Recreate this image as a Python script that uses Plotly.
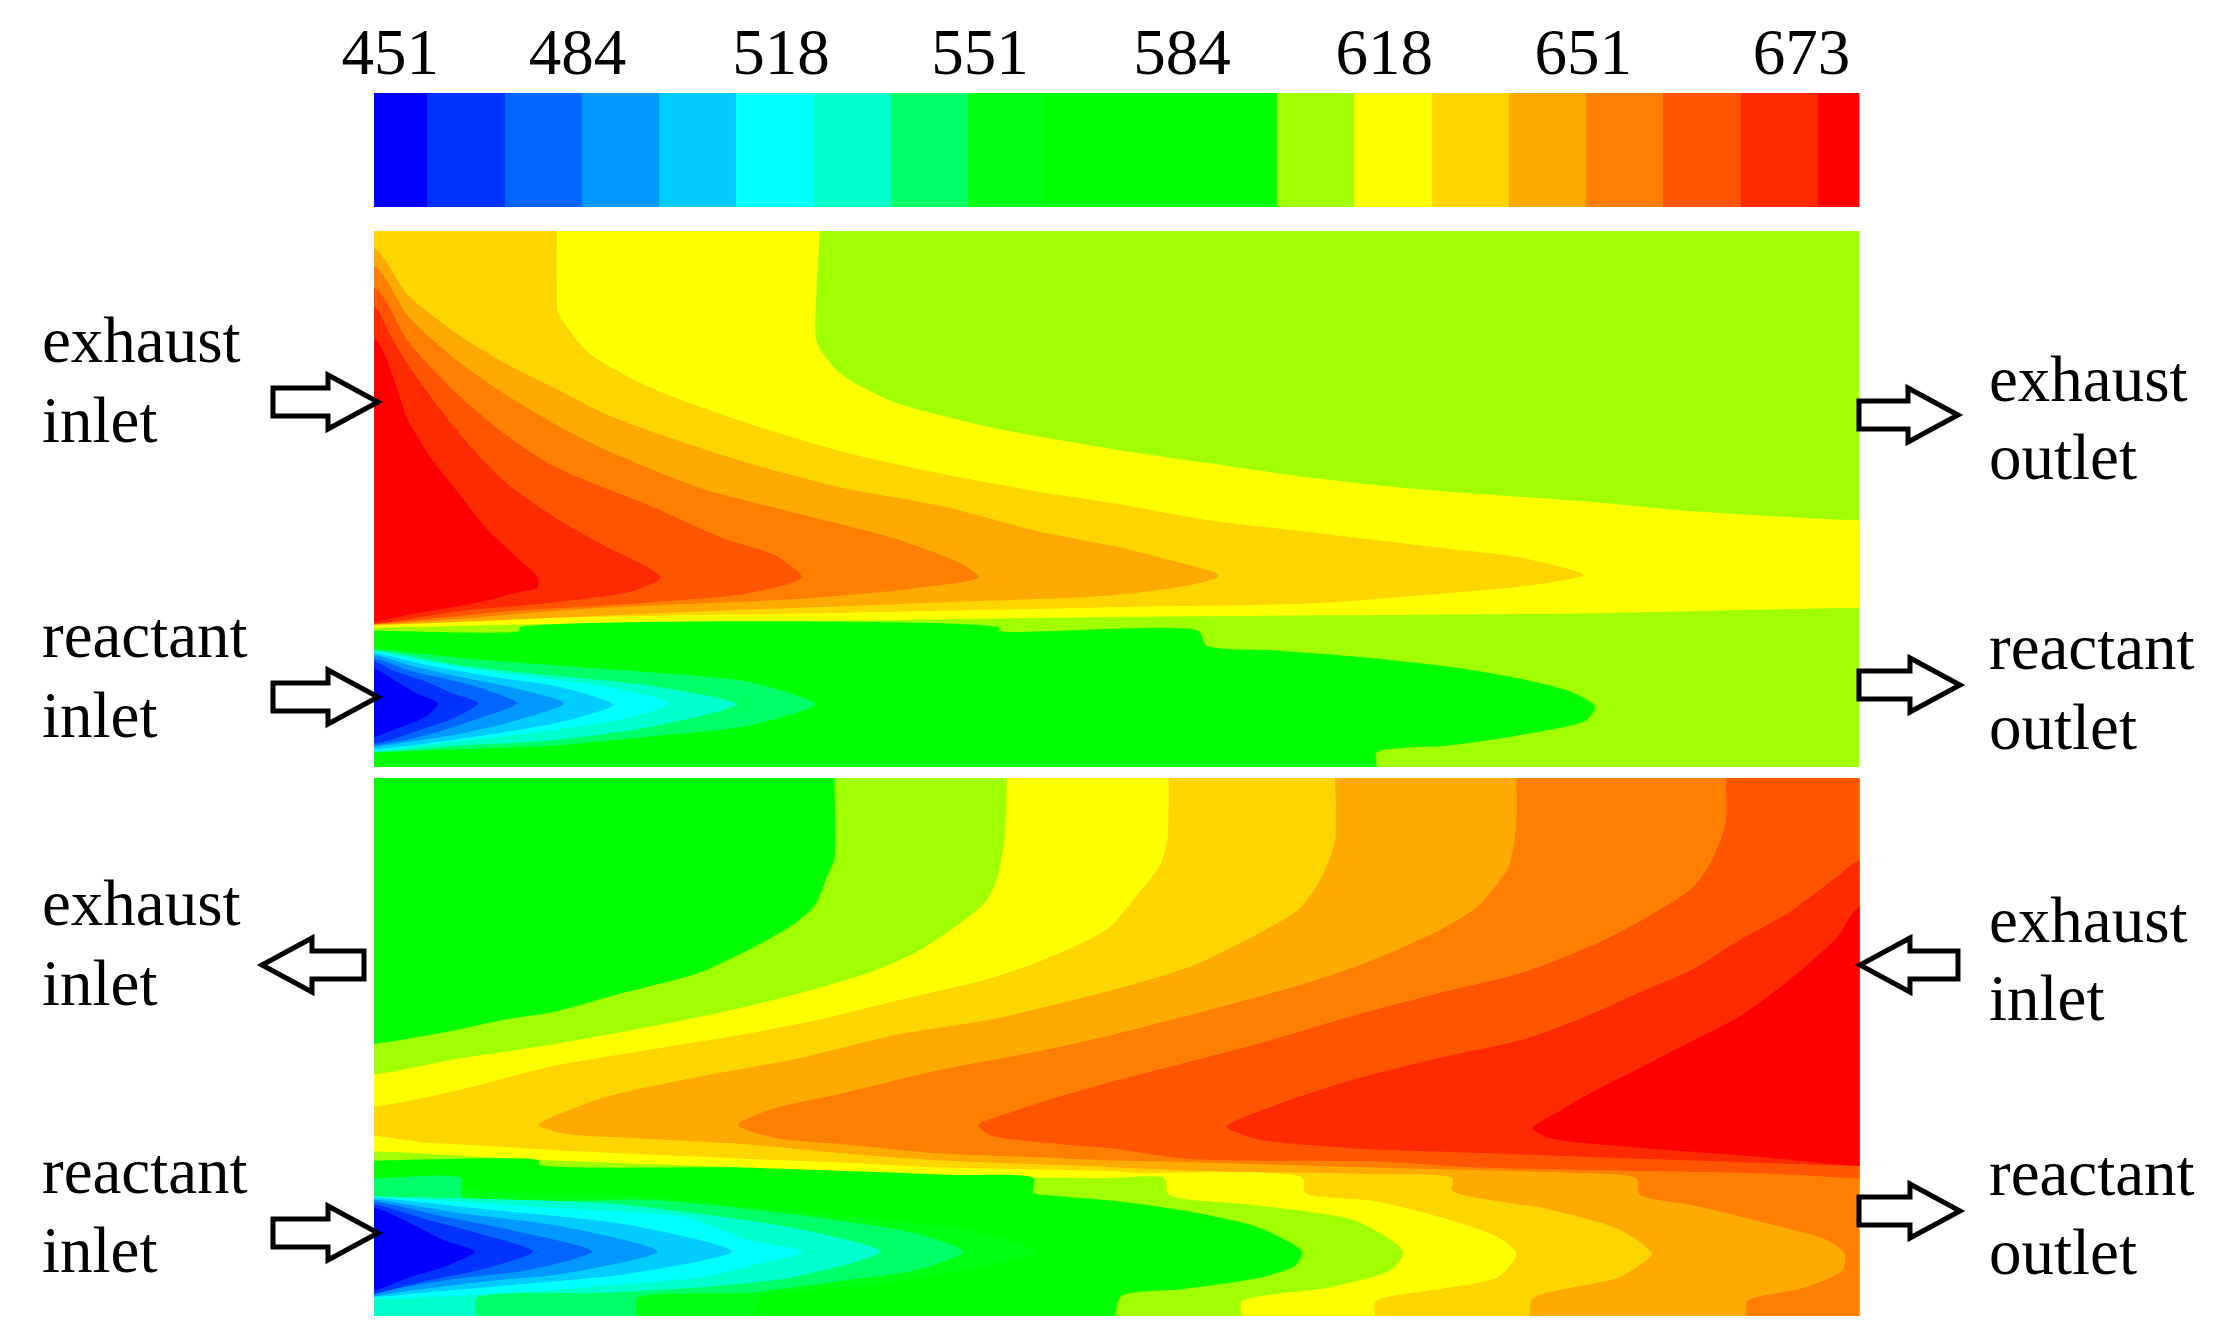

import plotly.graph_objects as go

PAGE_W, PAGE_H = 2235, 1344
PAGE_PAD = 8  # browser body margin round the plot div
FIG_W, FIG_H = PAGE_W - 2 * PAGE_PAD, PAGE_H - 2 * PAGE_PAD - 8
FONT = "Liberation Serif"

# legend bands
band_colors = [
    "#0000ff", "#0033ff", "#0066ff", "#0099ff", "#00ccff", "#00ffff", "#00ffcc",
    "#00ff66", "#00ff11", "#00ff00", "#00ff00", "#00ff00", "#a0ff00", "#ffff00",
    "#ffd500", "#ffaa00", "#ff8000", "#ff5500", "#ff2b00", "#ff0000",
]
legend_temps = [451, 463, 474, 486, 498, 509, 521, 533, 544, 556,
                568, 579, 591, 603, 614, 626, 638, 650, 661, 673]
legend_edges = [0, 3.6, 8.8, 14.0, 19.2, 24.4, 29.6, 34.8, 40.0, 45.2, 50.4,
                55.6, 60.8, 66.0, 71.2, 76.4, 81.6, 86.8, 92.0, 97.2, 100]
legend_tick_pos = [1.1, 13.7, 27.4, 40.8, 54.4, 68.0, 81.4, 96.1]
legend_tick_text = ["451", "484", "518", "551", "584", "618", "651", "673"]

# isotherms as (position along channel %, position across panel % from top)
# points outside 0-100 only close the region beyond the frame
# top panel, hot side: region at or above the band
top_13 = [(-5, -5), (30, -5), (30, 0), (29.8, 11), (29.8, 20.6), (31.4, 26.6), (35, 31.9), (41.5, 36.6), (50.2, 40.9),
          (56.1, 43.3), (62.7, 45.9), (69.2, 47.9), (75.7, 49.3), (82.2, 50.6), (88.8, 52.3), (100, 54), (105, 54),
          (105, 70.3), (100, 70.3), (82.2, 71.3), (64.3, 71.7), (50, 72), (25, 73), (10, 73.4), (0, 74), (-5, 74)]
top_14 = [(-5, -5), (12.3, -5), (12.3, 0), (12.3, 11.2), (12.4, 15.2), (14.4, 22.6), (18.6, 29.2), (25.2, 35.9),
          (31.7, 41.3), (38.2, 45.3), (44.7, 48.6), (50.2, 51), (56.1, 53.9), (64.3, 56.6), (72.4, 59.3), (77.3, 61),
          (81.4, 64), (81.4, 64.3), (77.3, 66.3), (71.8, 67.7), (64.3, 69.3), (58.7, 69.8), (52.9, 70),
          (44.7, 70.5), (32, 71.2), (15.4, 72), (5.6, 72.6), (0, 73.6), (-5, 73.6)]
top_15 = [(-5, 3.2), (0, 3.2), (2.3, 12), (5.6, 19.2), (8.8, 24.6), (12.1, 29.2), (15.4, 33.9), (18.6, 37.3),
          (25.2, 43.3), (31.7, 48), (38.2, 51.3), (44.7, 56), (50.2, 59), (52.9, 60.9), (56.8, 64), (56.8, 64.6),
          (54.5, 66.3), (49.6, 68), (38.2, 69.3), (21.9, 71), (0, 73.5), (-5, 73.5)]
top_16 = [(-5, 6.5), (0, 6.5), (2.3, 15.9), (5.6, 24.2), (8.8, 30.4), (12.1, 35.9), (15.4, 40.6), (21.9, 47.9),
          (28.4, 52.6), (35, 57.3), (39.5, 62), (40.7, 64.6), (36.6, 66.6), (28.8, 68.6), (15.4, 70.3), (0, 73.4),
          (-5, 73.4)]
top_17 = [(-5, 10.5), (0, 10.5), (2.3, 20.6), (5.6, 30.4), (8.8, 37.9), (12.1, 43.9), (18.6, 51.3), (23.5, 57.3),
          (27, 60.5), (28.8, 64.6), (25.2, 67.6), (18.6, 69.3), (8.8, 71), (0, 73.3), (-5, 73.3)]
top_18 = [(-5, 14), (0, 14), (1, 19), (2.3, 25), (5.6, 37.3), (8.8, 46.8), (12.1, 53.3), (15.4, 58.6), (19.3, 64.6),
          (17.4, 67.2), (12.1, 69.3), (5.6, 71), (0, 73.3), (-5, 73.3)]
top_19 = [(-5, 20), (0, 20), (2.3, 35.3), (3.9, 42.6), (5.6, 48.6), (7.5, 55.3), (9.5, 60.6), (11, 64.6), (11, 66.6),
          (10, 67.2), (7, 69.3), (2.3, 71.6), (0, 72.9), (-5, 72.9)]
# top panel, cold side: region below the band
top_c12 = [(-5, 74.6), (0, 74.6), (9.8, 74.6), (9.8, 74), (42.1, 74), (42.1, 74.6), (55.5, 74.6), (56, 77.3), (61, 78.3),
           (66.9, 79.6), (72.4, 81.3), (77.3, 83.6), (80.6, 86), (82.2, 88.7), (81.6, 91.3), (77.3, 94),
           (72.4, 96), (67.5, 97.3), (67.5, 100), (67.5, 105), (-5, 105)]
top_c8 = [(-5, 78), (0, 78), (5.6, 79.6), (12.1, 81), (18.6, 82.3), (25, 84), (29.7, 88.3), (25, 92.4), (18.6, 94.3),
          (12.1, 96), (5.6, 96.7), (0, 97.3), (-5, 97.3)]
top_c7 = [(-5, 78.2), (0, 78.2), (5.8, 81), (11.8, 82.9), (18.5, 84.8), (24.4, 88.3), (18.5, 92.6), (11.8, 95.1),
          (5.8, 96), (0, 97.2), (-5, 97.2)]
top_c6 = [(-5, 78.5), (0, 78.5), (3.6, 80.4), (8.1, 82.3), (13.7, 84.2), (17, 85.7), (19.9, 88.1), (17, 91), (12.6, 92.9),
          (8.1, 94.5), (3.6, 95.8), (0, 97), (-5, 97)]
top_c5 = [(-5, 78.8), (0, 78.8), (3.6, 81), (8.1, 83.2), (12.6, 85.1), (16.1, 88.4), (12.6, 91.6), (8.1, 93.8),
          (3.6, 95.6), (0, 96.7), (-5, 96.7)]
top_c4 = [(-5, 79.1), (0, 79.1), (2.4, 81), (5.8, 83.2), (9.2, 85.1), (12.8, 88.1), (9.2, 91.6), (5.8, 93.8), (2.4, 95.3),
          (0, 96.2), (-5, 96.2)]
top_c3 = [(-5, 79.7), (0, 79.7), (2.4, 82), (4.7, 83.5), (7, 85.1), (9.6, 88.1), (7, 91), (4.7, 93.1), (2.4, 94.8),
          (0, 95.9), (-5, 95.9)]
top_c2 = [(-5, 80.3), (0, 80.3), (1.3, 82), (3.6, 84.2), (5.3, 86.3), (7, 88.1), (5.3, 91), (3.6, 92.6), (1.3, 94.8),
          (0, 95.6), (-5, 95.6)]
top_c1 = [(-5, 81.6), (0, 81.6), (1.3, 83.7), (2.9, 86.3), (4.3, 88.1), (3.5, 90.6), (1.3, 93.1), (0, 94.4), (-5, 94.4)]

# bottom panel, hot side
bot_13 = [(42.6, -5), (42.6, 0), (42.5, 10), (42, 18.3), (41.2, 22.9), (39.5, 26.9), (36.6, 32.2), (33.3, 36.2), (28.4, 40.2),
          (23.5, 43.5), (18.6, 46.2), (12.1, 49.5), (5.6, 52.2), (0, 55.1), (-5, 55.1), (-5, 69.4), (0, 69.4), (11.1, 71),
          (25.2, 72.4), (31.7, 73.1), (38.2, 74.1), (49.6, 74.4), (53.2, 74.4), (53.5, 77.4), (59.4, 79.4), (65.9, 82.1),
          (68.9, 86.7), (69.3, 88.4), (68.5, 91.4), (64.3, 94.7), (58.4, 97.3), (58.4, 100), (58.4, 105), (105, 105), (105, -5)]
bot_14 = [(53.5, -5), (53.5, 0), (53.4, 11.6), (52.9, 16.3), (51.2, 22.3), (49.6, 27.6), (48, 30.2), (44.7, 34.2), (41.5, 37.2),
          (35, 41.5), (30, 44.9), (25.2, 47.5), (18.6, 50.5), (12.1, 53.5), (5.6, 58.1), (0, 61.1), (-5, 61.1), (-5, 66.5), (0, 66.5),
          (3.5, 67.8), (5.9, 68.1), (13.7, 69.4), (25.2, 70.8), (31.7, 71.5), (38.2, 72.4), (49.6, 73.1),
          (51.2, 73.4), (62.5, 74.3), (62.7, 77.1), (67.5, 78.7), (72.4, 82.1), (75.7, 85.4), (76.9, 88.4),
          (75.7, 92.7), (72.4, 94.7), (67.4, 97.3), (67.4, 100), (67.4, 105), (105, 105), (105, -5)]
bot_15 = [(64.7, -5), (64.7, 0), (64.7, 11.6), (63.7, 18.9), (62.3, 24.3), (60, 28.2), (55.1, 34.9), (49.6, 39.5), (41.5, 44.9),
          (35, 47.8), (28.4, 52.2), (21.9, 55.5), (15.4, 59.5), (11.1, 64.5), (12.8, 66.1), (18.6, 67.1),
          (25.2, 68.1), (31.7, 69.8), (38.2, 71.1), (49.6, 72.3), (55.1, 73), (66.9, 73.6), (72.6, 74.4),
          (72.6, 76.7), (79, 80.1), (83.9, 84), (86, 88.4), (83.9, 92.7), (78, 96.7), (77.8, 100), (77.8, 105), (105, 105), (105, -5)]
bot_16 = [(76.9, -5), (76.9, 0), (76.9, 8.3), (76.4, 16.3), (74.4, 23.6), (71.8, 28.2), (66.9, 34.2), (62.7, 38.2), (56.1, 43.2),
          (49.6, 47.8), (44.7, 50.8), (38.2, 54.2), (31.7, 58.5), (26.8, 61.5), (24.5, 64.5), (26.8, 66.8),
          (31.7, 68.1), (38.2, 69.8), (44.7, 70.5), (49.6, 71.1), (54.8, 71.4), (66.9, 72.4), (80.6, 73.4),
          (85, 74.4), (85.2, 77.4), (88.8, 79.4), (93.7, 82.7), (97.9, 86), (99, 88.4), (98.9, 91.4), (96.3, 94.7),
          (92.4, 97.3), (92.4, 100), (92.4, 105), (105, 105), (105, -5)]
bot_17 = [(91, -5), (91, 0), (91, 8.3), (90, 15.6), (88.8, 20.3), (85.5, 26.2), (82.2, 30.9), (77.3, 36.2), (72.4, 39.5),
          (65.9, 44.2), (59.4, 49.5), (49.6, 56.5), (46.4, 59), (43, 62), (40.7, 64.5), (41.5, 66.4),
          (46.4, 68.1), (49.6, 68.8), (54.8, 70.8), (68.5, 71.4), (74.4, 72.4), (94.6, 73.6), (100, 74.4), (105, 74.4), (105, -5)]
bot_18 = [(105, 15.3), (100, 15.3), (98.5, 18.3), (95.3, 24.9), (92, 30), (88.8, 35.5), (85.5, 39.5), (81, 45), (77.5, 48.5),
          (72.4, 51.6), (65.9, 56.1), (61, 60.5), (57.4, 64.8), (59.4, 67.1), (65.9, 68.8), (75.7, 69.8), (88.8, 71.1),
          (100, 72.1), (105, 72.1)]
bot_19 = [(105, 23.9), (100, 23.9), (98.5, 29.6), (95.3, 37.5), (92, 44.2), (88.8, 48.8), (85.5, 53.5), (82.2, 58.1), (80, 61.6),
          (78, 65.1), (79, 66.8), (85.5, 68.8), (92, 70.1), (100, 72.1), (105, 72.1)]
# bottom panel, cold side
bot_c12a = [(-5, -5), (31, -5), (31, 0), (31, 15), (30.5, 18.3), (29.7, 23.6), (28.4, 26.9), (26.8, 29.6), (24.5, 32.9),
            (21.9, 36.2), (19.3, 38.2), (16.4, 40.2), (12.1, 43.5), (8.8, 44.9), (5.6, 46.8), (0, 49.4), (-5, 49.4)]
bot_c12b = [(-5, 71.1), (0, 71.1), (11.1, 71.1), (11.1, 71.8), (24.5, 72.4), (32.4, 73.1), (39.2, 73.8), (44.4, 74.4), (44.4, 77.1),
            (46, 77.7), (50.2, 78.7), (54.5, 80.4), (59.4, 83.4), (62.3, 87.4), (62.5, 88.4), (62, 90.7), (59.4, 93),
            (54.5, 95), (50.3, 96.3), (49.9, 100), (49.9, 105), (-5, 105)]
bot_c9 = [(-5, 74.4), (0, 74.4), (5.9, 74.4), (5.9, 76), (18.6, 77.8), (22.6, 79), (31.7, 81.4), (39.9, 84), (44.6, 88),
          (39.9, 91.4), (33.3, 94.4), (25.8, 96.7), (25.8, 100), (25.8, 105), (-5, 105)]
bot_c8 = [(-5, 74.4), (0, 74.4), (5.9, 74.4), (5.9, 77.8), (18.6, 78.4), (25.2, 80.1), (31.7, 82.4), (36.6, 84.7), (39.7, 88),
          (36.6, 91.4), (31.7, 93.4), (25.2, 95.7), (17.7, 96.7), (17.7, 100), (17.7, 105), (-5, 105)]
bot_c7 = [(-5, 77.8), (0, 77.8), (15.4, 79), (21.9, 81), (28.4, 83.7), (34.1, 88), (28.4, 92.7), (21.9, 94.7), (15.4, 95.7),
          (6.9, 96.7), (6.9, 100), (6.9, 105), (-5, 105)]
bot_c6 = [(-5, 77.8), (0, 77.8), (1.6, 78), (11.7, 79.8), (21, 81.6), (25.2, 85.8), (28.9, 88), (25.2, 90.8), (22.1, 92.8),
          (15.5, 94.4), (11.7, 95.3), (0, 96.9), (-5, 96.9)]
bot_c5 = [(-5, 78), (0, 78), (8, 80.3), (17, 83), (24.1, 88), (17, 92.2), (10.3, 94), (3.6, 95.6), (0, 96.5), (-5, 96.5)]
bot_c4 = [(-5, 78.4), (0, 78.4), (5.8, 80.9), (12.6, 83.3), (19.1, 88), (12.6, 92.2), (8.1, 93.4), (2.4, 95.3), (0, 96.3), (-5, 96.3)]
bot_c3 = [(-5, 78.7), (0, 78.7), (4.7, 81.5), (9.2, 84), (14.7, 88), (10.3, 91.5), (5.8, 93), (1.3, 95), (0, 96), (-5, 96)]
bot_c2 = [(-5, 79.3), (0, 79.3), (3.6, 82.1), (7, 84.6), (10.7, 88), (7, 91.5), (3.6, 93.4), (0, 95.8), (-5, 95.8)]
bot_c1 = [(-5, 79.9), (0, 79.9), (2.4, 82.7), (4.7, 85.9), (6.8, 88), (4.7, 90.9), (2.4, 92.8), (0, 95.2), (-5, 95.2)]
full_frame = [(-5, -5), (105, -5), (105, 105), (-5, 105)]

# text, in picture pixels: (text, left, baseline)
channel_labels = [
    ("exhaust", 41, 361), ("inlet", 41, 441), ("reactant", 41, 656), ("inlet", 41, 736),
    ("exhaust", 41, 924), ("inlet", 41, 1004), ("reactant", 41, 1192), ("inlet", 41, 1271),
    ("exhaust", 1988, 400), ("outlet", 1988, 478), ("reactant", 1988, 668), ("outlet", 1988, 748),
    ("exhaust", 1988, 941), ("inlet", 1988, 1019), ("reactant", 1988, 1194), ("outlet", 1988, 1273),
]
# flow arrows: (tail, tip, centre y)
flow_arrows = [
    (273, 378, 402), (273, 378, 697), (364, 262, 965), (273, 378, 1233),
    (1859, 1958, 415), (1859, 1960, 685), (1958, 1860, 965), (1859, 1960, 1211),
]

PANEL_L, PANEL_R = 374, 1859.5
LEGEND_Y = (93, 207)
TOP_Y = (231, 767)
BOTTOM_Y = (778, 1316)
LEGEND_TICK_BASE = 112


def px_x(x):
    return (x - PAGE_PAD) / FIG_W


def px_y(y):
    return 1 - (y - PAGE_PAD) / FIG_H


def add_layers(fig, layers, x_axis, y_axis):
    for band, pts in layers:
        fig.add_trace(go.Scatter(
            x=[p[0] for p in pts],
            y=[p[1] for p in pts],
            mode="lines",
            fill="toself",
            fillcolor=band_colors[band],
            line=dict(width=0, shape="spline", smoothing=0.7),
            xaxis=x_axis,
            yaxis=y_axis,
            showlegend=False,
            hoverinfo="skip",
        ))


def arrow_path(tail, tip, cy):
    head = 50 if tip > tail else -50
    neck = tip - head
    pts = [(tail, cy - 14), (neck, cy - 14), (neck, cy - 27), (tip, cy),
           (neck, cy + 27), (neck, cy + 14), (tail, cy + 14)]
    return "M " + " L ".join(f"{px_x(x):.5f} {px_y(y):.5f}" for x, y in pts) + " Z"


top_layers = [(12, full_frame), (13, top_13), (14, top_14), (15, top_15), (16, top_16), (17, top_17), (18, top_18),
              (19, top_19), (11, top_c12), (7, top_c8), (6, top_c7), (5, top_c6), (4, top_c5), (3, top_c4),
              (2, top_c3), (1, top_c2), (0, top_c1)]
bottom_layers = [(12, full_frame), (13, bot_13), (14, bot_14), (15, bot_15), (16, bot_16), (17, bot_17), (18, bot_18),
                 (19, bot_19), (11, bot_c12a), (11, bot_c12b), (8, bot_c9), (7, bot_c8), (6, bot_c7), (5, bot_c6),
                 (4, bot_c5), (3, bot_c4), (2, bot_c3), (1, bot_c2), (0, bot_c1)]

fig = go.Figure()
add_layers(fig, top_layers, "x", "y")
add_layers(fig, bottom_layers, "x2", "y2")

colorscale = []
for i, c in enumerate(band_colors):
    colorscale += [[i / 20, c], [(i + 1) / 20, c]]
fig.add_trace(go.Heatmap(
    x=legend_edges,
    y=[0, 1],
    z=[legend_temps],
    zmin=445.2,
    zmax=678.8,
    colorscale=colorscale,
    showscale=False,
    xaxis="x3",
    yaxis="y3",
    hoverinfo="skip",
))

panel_dom = [px_x(PANEL_L), px_x(PANEL_R)]
hidden = dict(visible=False, fixedrange=True)


def y_dom(span):
    return [px_y(span[1]), px_y(span[0])]


annotations = [
    dict(text=t, x=px_x(left), y=px_y(base + 16), xref="paper", yref="paper", xanchor="left", yanchor="bottom",
         showarrow=False, borderpad=0, font=dict(family=FONT, size=65, color="black"))
    for t, left, base in channel_labels
]
shapes = [
    dict(type="path", path=arrow_path(*a), xref="paper", yref="paper", fillcolor="white",
         line=dict(color="black", width=5), layer="above")
    for a in flow_arrows
]

fig.update_layout(
    width=FIG_W,
    height=FIG_H,
    margin=dict(l=0, r=0, t=0, b=0, autoexpand=False),
    paper_bgcolor="white",
    plot_bgcolor="white",
    showlegend=False,
    annotations=annotations,
    shapes=shapes,
    xaxis=dict(domain=panel_dom, range=[0, 100], anchor="y", **hidden),
    yaxis=dict(domain=y_dom(TOP_Y), range=[100, 0], anchor="x", **hidden),
    xaxis2=dict(domain=panel_dom, range=[0, 100], anchor="y2", **hidden),
    yaxis2=dict(domain=y_dom(BOTTOM_Y), range=[100, 0], anchor="x2", **hidden),
    xaxis3=dict(domain=panel_dom, range=[0, 100], anchor="free", position=px_y(LEGEND_TICK_BASE), side="top", fixedrange=True,
                tickmode="array", tickvals=legend_tick_pos, ticktext=legend_tick_text,
                ticks="outside", ticklen=12, tickcolor="rgba(0,0,0,0)", showgrid=False, zeroline=False,
                showline=False, tickfont=dict(family=FONT, size=65, color="black")),
    yaxis3=dict(domain=y_dom(LEGEND_Y), range=[0, 1], anchor="x3", **hidden),
)

fig.write_html("out.html")
